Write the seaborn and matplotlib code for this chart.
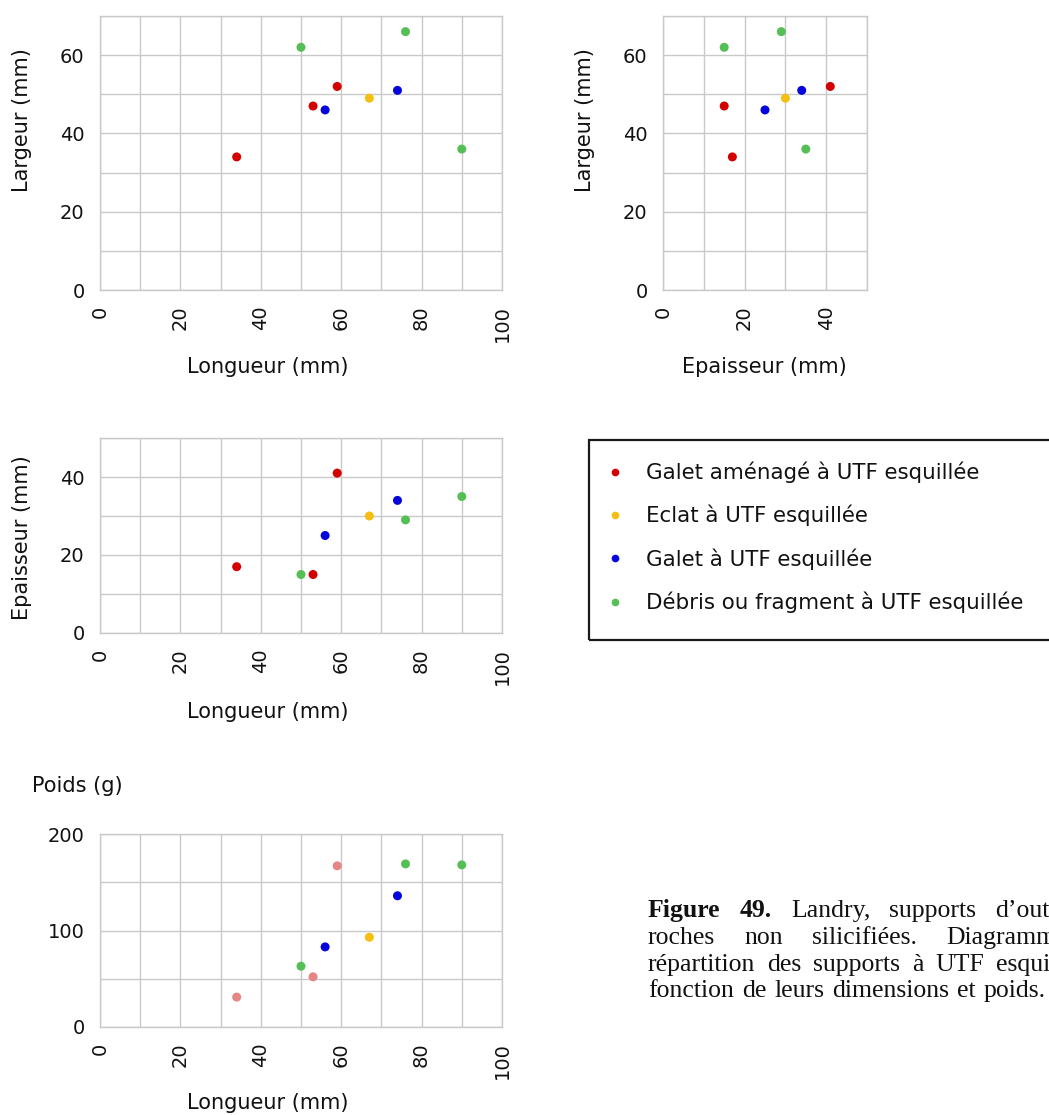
import matplotlib
matplotlib.use("Agg")
import matplotlib.pyplot as plt
import seaborn as sns
import pandas as pd
from matplotlib.patches import Rectangle

# ---------------- data ----------------
categories = [
    "Galet aménagé à UTF esquillée",
    "Eclat à UTF esquillée",
    "Galet à UTF esquillée",
    "Débris ou fragment à UTF esquillée",
]
item_type = [0, 0, 0, 1, 2, 2, 3, 3, 3]
longueur = [34, 53, 59, 67, 56, 74, 50, 76, 90]
largeur = [34, 47, 52, 49, 46, 51, 62, 66, 36]
epaisseur = [17, 15, 41, 30, 25, 34, 15, 29, 35]
poids = [31, 52, 167, 93, 83, 136, 63, 169, 168]

colors = ["#d40000", "#f7be12", "#0505dc", "#55bf55"]
colors_poids = ["#e58585", "#f7be12", "#0505dc", "#55bf55"]

caption_lines = [
    [("Figure", True), ("49.", True), ("Landry,", False), ("supports", False), ("d’outils", False)],
    [("roches", False), ("non", False), ("silicifiées.", False), ("Diagramme", False)],
    [("répartition", False), ("des", False), ("supports", False), ("à", False), ("UTF", False), ("esquillée", False)],
    [("fonction", False), ("de", False), ("leurs", False), ("dimensions", False), ("et", False), ("poids.", False)],
]

df = pd.DataFrame({
    "type": [categories[i] for i in item_type],
    "Longueur": longueur,
    "Largeur": largeur,
    "Epaisseur": epaisseur,
    "Poids": poids,
})

# ---------------- style ----------------
sns.set_style("white")
plt.rcParams["font.family"] = ["DejaVu Sans"]

W, H = 1049, 1115
fig = plt.figure(figsize=(W / 100, H / 100), dpi=100)


def box(left, top, right, bottom):
    return [left / W, 1 - bottom / H, (right - left) / W, (bottom - top) / H]


GRID = "#c9c9c9"


def style_axes(ax, xmax, xmajor, ymax, ymajor, yminor_step, xminor_step=10):
    ax.set_xlim(0, xmax)
    ax.set_ylim(0, ymax)
    ax.set_xticks(list(range(0, xmax + 1, xmajor)))
    ax.set_xticks(list(range(0, xmax + 1, xminor_step)), minor=True)
    ax.set_yticks(list(range(0, ymax + 1, ymajor)))
    ax.set_yticks(list(range(0, ymax + 1, yminor_step)), minor=True)
    ax.grid(which="both", color=GRID, lw=1.0)
    ax.set_axisbelow(True)
    ax.tick_params(which="both", length=0)
    ax.tick_params(axis="x", labelrotation=90, labelsize=14, pad=11, labelcolor="#111111")
    ax.tick_params(axis="y", labelsize=14, pad=11, labelcolor="#111111")
    for s in ax.spines.values():
        s.set_color(GRID)
        s.set_linewidth(1.0)


def set_labels(ax, xlabel, xpos, ylabel, ypos, yrot=90):
    ax.set_xlabel(xlabel, fontsize=15, color="#111111")
    ax.set_ylabel(ylabel, fontsize=15, color="#111111", rotation=yrot)
    ax.xaxis.set_label_coords(*xpos)
    ax.yaxis.set_label_coords(*ypos)
    ax.xaxis.label.set_va("center")
    ax.xaxis.label.set_ha("center")
    ax.yaxis.label.set_va("center")
    ax.yaxis.label.set_ha("center")
    ax.yaxis.label.set_rotation_mode("anchor")


S = 42
pal = dict(zip(categories, colors))
pal_p = dict(zip(categories, colors_poids))

# Panel 1: Longueur vs Largeur
ax1 = fig.add_axes(box(100, 16, 502, 290))
sns.scatterplot(data=df, x="Longueur", y="Largeur", hue="type", hue_order=categories,
                palette=pal, s=S, linewidth=0, ax=ax1, legend=True)
handles, labels = ax1.get_legend_handles_labels()
ax1.get_legend().remove()
style_axes(ax1, 100, 20, 70, 20, 10)
set_labels(ax1, "Longueur (mm)", (0.417, -0.281), "Largeur (mm)", (-0.194, 0.619))

# Panel 2: Epaisseur vs Largeur
ax2 = fig.add_axes(box(663, 16, 867, 290))
sns.scatterplot(data=df, x="Epaisseur", y="Largeur", hue="type", hue_order=categories,
                palette=pal, s=S, linewidth=0, ax=ax2, legend=False)
style_axes(ax2, 50, 20, 70, 20, 10)
set_labels(ax2, "Epaisseur (mm)", (0.495, -0.281), "Largeur (mm)", (-0.382, 0.619))

# Panel 3: Longueur vs Epaisseur
ax3 = fig.add_axes(box(100, 438, 502, 633))
sns.scatterplot(data=df, x="Longueur", y="Epaisseur", hue="type", hue_order=categories,
                palette=pal, s=S, linewidth=0, ax=ax3, legend=False)
style_axes(ax3, 100, 20, 50, 20, 10)
set_labels(ax3, "Longueur (mm)", (0.417, -0.403), "Epaisseur (mm)", (-0.194, 0.49))

# Panel 4: Longueur vs Poids
ax4 = fig.add_axes(box(100, 834, 502, 1027))
sns.scatterplot(data=df, x="Longueur", y="Poids", hue="type", hue_order=categories,
                palette=pal_p, s=S, linewidth=0, ax=ax4, legend=False)
style_axes(ax4, 100, 20, 200, 100, 50)
set_labels(ax4, "Longueur (mm)", (0.417, -0.394), "Poids (g)", (-0.056, 1.249), yrot=0)

# Legend
fig.legend(handles, labels, loc="upper left",
           bbox_to_anchor=(596 / W, 1 - 453 / H), bbox_transform=fig.transFigure,
           frameon=False, fontsize=15.4, handlelength=1.0, handletextpad=0.94,
           labelspacing=1.02, borderpad=0.4, borderaxespad=0, markerscale=0.85,
           labelcolor="#111111")
fig.patches.append(Rectangle((589 / W, 1 - 640 / H), (1120 - 589) / W, 200 / H,
                             transform=fig.transFigure, fill=False,
                             edgecolor="#1a1a1a", lw=1.6))

# Caption: justified paragraph, partly cut by the right edge as in the source
fig.canvas.draw()
renderer = fig.canvas.get_renderer()
left_px = 648
right_px = [1074, 1068, 1087, 1046]
baselines = [917, 944, 971, 997]
for words, R, yb in zip(caption_lines, right_px, baselines):
    objs = []
    for w, bold in words:
        t = fig.text(0, 1 - yb / H, w, fontsize=18.5, family="Liberation Serif",
                     fontweight="bold" if bold else "normal", va="baseline", ha="left",
                     color="#111111")
        objs.append(t)
    widths = [t.get_window_extent(renderer).width for t in objs]
    gap = (R - left_px - sum(widths)) / (len(objs) - 1)
    x = left_px
    for t, wd in zip(objs, widths):
        t.set_x(x / W)
        x += wd + gap

fig.savefig("out.png", dpi=100)
